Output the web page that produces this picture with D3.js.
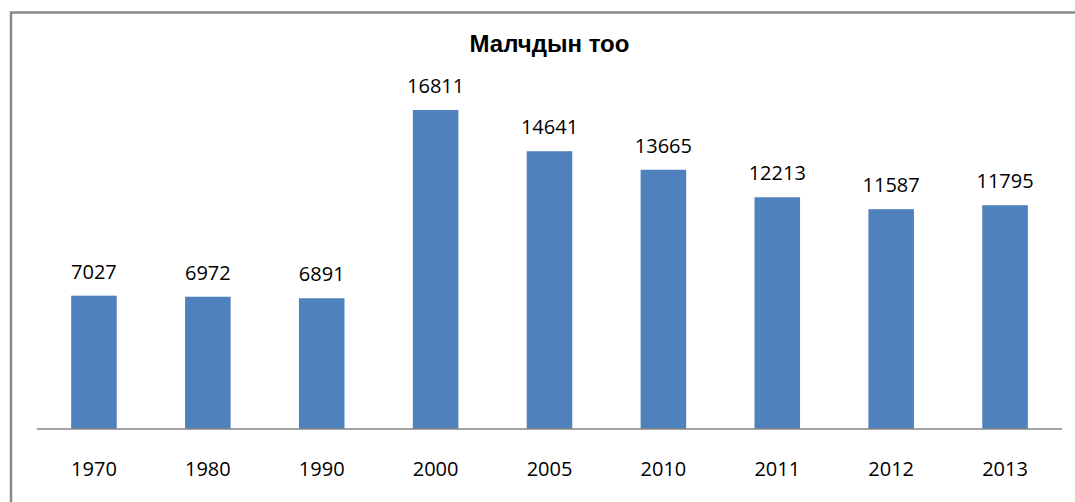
<!DOCTYPE html>
<html>
<head>
<meta charset="utf-8">
<script src="https://cdn.jsdelivr.net/npm/d3@7.9.0/dist/d3.min.js"></script>
<style>
  html, body { margin: 0; padding: 0; background: #fff; }
  svg { display: block; }
</style>
</head>
<body>
<svg id="chart" width="1075" height="502"></svg>
<script>
// data
const years = ['1970', '1980', '1990', '2000', '2005', '2010', '2011', '2012', '2013'];
const herders = [7027, 6972, 6891, 16811, 14641, 13665, 12213, 11587, 11795];
const title = 'Малчдын тоо';

const svg = d3.select('#chart');
const width = 1075, height = 502;

// chart frame (only top and left sides are inside the window)
svg.append('rect')
  .attr('x', 11).attr('y', 12.5)
  .attr('width', width + 20).attr('height', height + 20)
  .attr('fill', 'none')
  .attr('stroke', '#8a8a8a')
  .attr('stroke-width', 2.5);

// band scale for categories
const x = d3.scaleBand()
  .domain(years)
  .range([37, 1062])
  .paddingInner(0.6)
  .paddingOuter(0.3);

// linear scale, Excel-like max of 18000
const y = d3.scaleLinear()
  .domain([0, 18000])
  .range([429, 87.5]);

// bars
svg.append('g')
  .selectAll('rect')
  .data(herders)
  .join('rect')
  .attr('x', (d, i) => x(years[i]))
  .attr('y', d => y(d))
  .attr('width', x.bandwidth())
  .attr('height', d => y(0) - y(d))
  .attr('fill', '#4F81BD');

// value labels
svg.append('g')
  .selectAll('text')
  .data(herders)
  .join('text')
  .attr('x', (d, i) => x(years[i]) + x.bandwidth() / 2)
  .attr('y', d => y(d) - 17)
  .attr('text-anchor', 'middle')
  .attr('font-family', '"Open Sans", sans-serif')
  .attr('font-size', 20)
  .attr('fill', '#000')
  .text(d => d);

// x axis
const xAxis = svg.append('g')
  .attr('transform', `translate(0,${y(0)})`)
  .call(d3.axisBottom(x).tickSize(0).tickPadding(33));

xAxis.select('.domain')
  .attr('stroke', '#868686')
  .attr('stroke-width', 1.5)
  .attr('d', 'M37,0H1062');

xAxis.selectAll('text')
  .attr('font-family', '"Open Sans", sans-serif')
  .attr('font-size', 20)
  .attr('fill', '#000');

// title
svg.append('text')
  .attr('x', (37 + 1062) / 2)
  .attr('y', 52)
  .attr('text-anchor', 'middle')
  .attr('font-family', '"Liberation Sans", Arial, sans-serif')
  .attr('font-weight', 'bold')
  .attr('font-size', 24)
  .attr('fill', '#000')
  .text(title);
</script>
</body>
</html>
